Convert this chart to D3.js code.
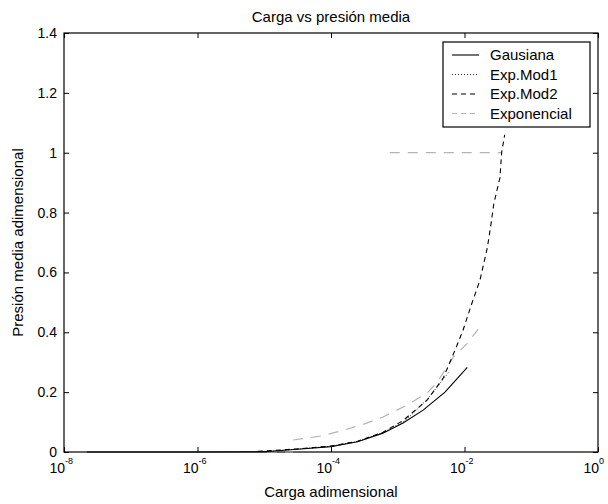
<!DOCTYPE html>
<html>
<head>
<meta charset="utf-8">
<script src="https://cdn.jsdelivr.net/npm/d3@7"></script>
<style>
  body { margin: 0; background: #fff; }
  svg text { font-family: "Liberation Sans", Arial, sans-serif; fill: #000; }
</style>
</head>
<body>
<div id="chart"></div>
<script>
// Data
var gausX = [2.2e-8, 1e-6, 1e-5, 3.5e-5, 1e-4, 2.5e-4, 6e-4, 1.2e-3, 2.4e-3, 5.1e-3, 1.1e-2];
var gausY = [0, 0, 0.001, 0.01, 0.018, 0.034, 0.063, 0.097, 0.14, 0.2, 0.283];

var mod1X = [1e-5, 3e-5, 1e-4, 2.5e-4, 6e-4, 1.3e-3, 2.75e-3, 4.5e-3, 6e-3];
var mod1Y = [0.001, 0.009, 0.019, 0.035, 0.065, 0.105, 0.175, 0.235, 0.27];

var mod2X = [8e-6, 3e-5, 1e-4, 2.5e-4, 6e-4, 1.2e-3, 2.75e-3, 4.8e-3, 7.2e-3, 9.5e-3, 1.29e-2, 1.7e-2, 2.2e-2, 2.5e-2, 2.75e-2, 3.4e-2, 3.6e-2, 4e-2];
var mod2Y = [0.002, 0.01, 0.02, 0.036, 0.066, 0.105, 0.173, 0.247, 0.34, 0.407, 0.497, 0.573, 0.683, 0.763, 0.83, 0.917, 1.0, 1.06];

var expoX = [1.1e-5, 2.7e-5, null, 2.7e-5, 6.9e-5, 1.4e-4, 3.1e-4, 6e-4, 1.38e-3, 2.75e-3, 3.9e-3, 6.8e-3, 1.1e-2, 1.6e-2, null, 7.6e-4, 3.6e-2];
var expoY = [0, 0, null, 0.04, 0.053, 0.07, 0.093, 0.117, 0.157, 0.197, 0.233, 0.317, 0.363, 0.41, null, 1, 1];

var seriesNames = ["Gausiana", "Exp.Mod1", "Exp.Mod2", "Exponencial"];
var xTicks = [1e-8, 1e-6, 1e-4, 1e-2, 1];
var xTickExp = ["-8", "-6", "-4", "-2", "0"];
var yTicks = [0, 0.2, 0.4, 0.6, 0.8, 1, 1.2, 1.4];
var yTickLabels = ["0", "0.2", "0.4", "0.6", "0.8", "1", "1.2", "1.4"];

var width = 608, height = 504;
var pLeft = 64, pRight = 598, pTop = 33, pBottom = 452;

var svg = d3.select("#chart").append("svg")
    .attr("width", width)
    .attr("height", height);

var x = d3.scaleLog().domain([1e-8, 1]).range([pLeft, pRight]);
var y = d3.scaleLinear().domain([0, 1.4]).range([pBottom, pTop]);

//Axes (ticks inside, MATLAB style)
svg.append("g")
    .attr("transform", "translate(0," + pBottom + ")")
    .call(d3.axisBottom(x).tickValues(xTicks).tickSize(-5).tickFormat(""))
    .call(function(g) { g.select(".domain").remove(); });
svg.append("g")
    .attr("transform", "translate(0," + pTop + ")")
    .call(d3.axisTop(x).tickValues(xTicks).tickSize(-5).tickFormat(""))
    .call(function(g) { g.select(".domain").remove(); });
svg.append("g")
    .attr("transform", "translate(" + pLeft + ",0)")
    .call(d3.axisLeft(y).tickValues(yTicks).tickSize(-5).tickPadding(7)
      .tickFormat(function(d, i) { return yTickLabels[i]; }))
    .call(function(g) {
      g.select(".domain").remove();
      g.selectAll("text").style("font-size", "14px").attr("fill", "#000");
    });
svg.append("g")
    .attr("transform", "translate(" + pRight + ",0)")
    .call(d3.axisRight(y).tickValues(yTicks).tickSize(-5).tickFormat(""))
    .call(function(g) { g.select(".domain").remove(); });

svg.selectAll(".tick line").attr("stroke", "#000");

// x tick labels: 10 with superscript exponent
var xl = svg.selectAll(".xlab")
    .data(xTicks).enter()
    .append("g").attr("class", "xlab");
xl.append("text")
    .attr("x", function(d) { return x(d) + 1; })
    .attr("y", 473)
    .attr("text-anchor", "end")
    .style("font-size", "14px")
    .text("10");
xl.append("text")
    .attr("x", function(d) { return x(d) + 1; })
    .attr("y", 464)
    .attr("text-anchor", "start")
    .style("font-size", "9px")
    .text(function(d, i) { return xTickExp[i]; });

svg.append("rect")
    .attr("x", pLeft).attr("y", pTop)
    .attr("width", pRight - pLeft).attr("height", pBottom - pTop)
    .attr("fill", "none")
    .attr("stroke", "#000")
    .attr("stroke-width", 1.2);

//Lines
var line = d3.line()
    .defined(function(d) { return d[0] !== null; })
    .x(function(d) { return x(d[0]); })
    .y(function(d) { return y(d[1]); });

function pairs(xs, ys) {
  return xs.map(function(v, i) { return [v, ys[i]]; });
}

var styles = [
  { color: "#000", dash: null, w: 1.1 },
  { color: "#333", dash: "1,2", w: 1 },
  { color: "#000", dash: "5,4", w: 1.1 },
  { color: "#b4b4b4", dash: "10,8", w: 1.2 }
];
var data = [pairs(gausX, gausY), pairs(mod1X, mod1Y), pairs(mod2X, mod2Y), pairs(expoX, expoY)];

// draw gray first so black lines stay on top
[3, 1, 0, 2].forEach(function(i) {
  svg.append("path")
      .datum(data[i])
      .attr("d", line)
      .attr("fill", "none")
      .attr("stroke", styles[i].color)
      .attr("stroke-width", styles[i].w)
      .attr("stroke-dasharray", styles[i].dash);
});

//Titles
svg.append("text")
    .attr("x", (pLeft + pRight) / 2).attr("y", 22)
    .attr("text-anchor", "middle")
    .style("font-size", "15px")
    .text("Carga vs presión media");
svg.append("text")
    .attr("x", (pLeft + pRight) / 2).attr("y", 497)
    .attr("text-anchor", "middle")
    .style("font-size", "15px")
    .text("Carga adimensional");
svg.append("text")
    .attr("transform", "translate(23," + ((pTop + pBottom) / 2) + ") rotate(-90)")
    .attr("text-anchor", "middle")
    .style("font-size", "15px")
    .text("Presión media adimensional");

//Legend
var lg = svg.append("g");
lg.append("rect")
    .attr("x", 443).attr("y", 42)
    .attr("width", 147).attr("height", 85)
    .attr("fill", "#fff")
    .attr("stroke", "#000")
    .attr("stroke-width", 1.2);
var item = lg.selectAll(".legend")
    .data(seriesNames).enter()
    .append("g").attr("class", "legend")
    .attr("transform", function(d, i) { return "translate(0," + (55 + i * 19.5) + ")"; });
item.append("line")
    .attr("x1", 452).attr("x2", 479)
    .attr("stroke", function(d, i) { return styles[i].color; })
    .attr("stroke-width", function(d, i) { return styles[i].w; })
    .attr("stroke-dasharray", function(d, i) { return i === 3 ? "5,4" : styles[i].dash; });
item.append("text")
    .attr("x", 490).attr("dy", "0.35em")
    .style("font-size", "15px")
    .text(function(d) { return d; });
</script>
</body>
</html>
